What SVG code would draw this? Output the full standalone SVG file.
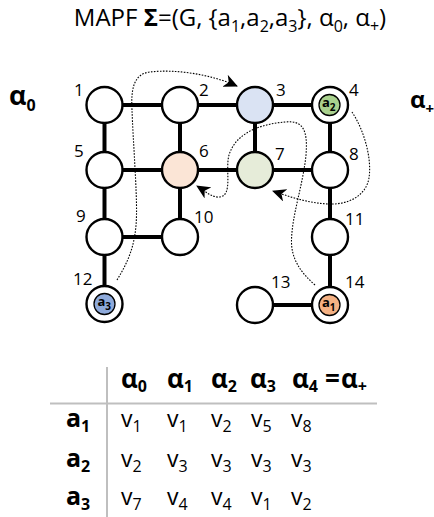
<svg xmlns="http://www.w3.org/2000/svg" width="434" height="517" viewBox="0 0 434 517">
<defs>
<style>
text{font-family:"Open Sans","Noto Sans","DejaVu Sans",sans-serif;fill:#000}
.title{font-size:24px}
.lbl{font-size:17px}
.edge{stroke:#000;stroke-width:4;stroke-linecap:butt}
.node{stroke:#000;stroke-width:2.4;fill:#fff}
.inner{stroke:#000;stroke-width:1.3}
.ia{font-size:13px;font-weight:bold}
.is{font-size:10px;font-weight:bold}
.path{fill:none;stroke:#000;stroke-width:1.1;stroke-dasharray:1.6 1.4}
.grid{stroke:#bfbfbf;stroke-width:2}
.hd{font-size:26px;font-weight:bold}
.hs{font-size:16px;font-weight:bold}
.ra{font-size:25px;font-weight:bold}
.v{font-size:23px}
.vs{font-size:16px}
</style>
<marker id="arr" markerUnits="userSpaceOnUse" markerWidth="14" markerHeight="13" viewBox="0 0 14 13" refX="13" refY="6.5" orient="auto">
<path d="M0,0 L14,6.5 L0,13 L4,6.5 Z" fill="#000"/>
</marker>
</defs>
<rect width="434" height="517" fill="#fff"/>

<text class="title" x="230" y="26" text-anchor="middle">MAPF <tspan font-weight="bold">Σ</tspan>=(G, {a<tspan font-size="16" dy="6">1</tspan><tspan dy="-6">,a</tspan><tspan font-size="16" dy="6">2</tspan><tspan dy="-6">,a</tspan><tspan font-size="16" dy="6">3</tspan><tspan dy="-6">}, α</tspan><tspan font-size="16" dy="6">0</tspan><tspan dy="-6">, α</tspan><tspan font-size="16" dy="6">+</tspan><tspan dy="-6">)</tspan></text>

<text x="9" y="105" font-size="27" font-weight="bold">α<tspan font-size="16" dy="6">0</tspan></text>
<text x="410" y="108" font-size="24" font-weight="bold">α<tspan font-size="15" dy="6">+</tspan></text>

<g id="connectors">
<line class="edge" x1="104.5" y1="105" x2="180" y2="105"/>
<line class="edge" x1="180" y1="105" x2="255" y2="105"/>
<line class="edge" x1="255" y1="105" x2="330" y2="105"/>
<line class="edge" x1="104.5" y1="105" x2="104.5" y2="170"/>
<line class="edge" x1="180" y1="105" x2="180" y2="170"/>
<line class="edge" x1="255" y1="105" x2="255" y2="170"/>
<line class="edge" x1="330" y1="105" x2="330" y2="170"/>
<line class="edge" x1="104.5" y1="170" x2="180" y2="170"/>
<line class="edge" x1="180" y1="170" x2="255" y2="170"/>
<line class="edge" x1="255" y1="170" x2="330" y2="170"/>
<line class="edge" x1="104.5" y1="170" x2="104.5" y2="237"/>
<line class="edge" x1="180" y1="170" x2="180" y2="237"/>
<line class="edge" x1="330" y1="170" x2="330" y2="237"/>
<line class="edge" x1="104.5" y1="237" x2="180" y2="237"/>
<line class="edge" x1="104.5" y1="237" x2="104.5" y2="304"/>
<line class="edge" x1="330" y1="237" x2="330" y2="305"/>
<line class="edge" x1="255" y1="305" x2="330" y2="305"/>
</g>

<g id="v1"><circle class="node" cx="104.5" cy="105" r="18"/><text class="lbl" x="74" y="96">1</text></g>
<g id="v2"><circle class="node" cx="180" cy="105" r="18"/><text class="lbl" x="199" y="96">2</text></g>
<g id="v3"><circle class="node" cx="255" cy="105" r="18" style="fill:#dae3f3"/><text class="lbl" x="276" y="96">3</text></g>
<g id="v4"><circle class="node" cx="330" cy="105" r="18"/><circle class="inner" cx="329.5" cy="105" r="10.5" fill="#a9d18e"/><text class="ia" x="322" y="107">a<tspan class="is" dy="4">2</tspan></text><text class="lbl" x="349" y="96">4</text></g>
<g id="v5"><circle class="node" cx="104.5" cy="170" r="18"/><text class="lbl" x="74" y="157">5</text></g>
<g id="v6"><circle class="node" cx="180" cy="170" r="18" style="fill:#fbe5d6"/><text class="lbl" x="199" y="157">6</text></g>
<g id="v7"><circle class="node" cx="255" cy="170" r="18" style="fill:#e6ecd9"/><text class="lbl" x="275" y="160">7</text></g>
<g id="v8"><circle class="node" cx="330" cy="170" r="18"/><text class="lbl" x="349" y="160">8</text></g>
<g id="v9"><circle class="node" cx="104.5" cy="237" r="18"/><text class="lbl" x="76" y="222">9</text></g>
<g id="v10"><circle class="node" cx="180" cy="237" r="18"/><text class="lbl" x="194" y="223">10</text></g>
<g id="v11"><circle class="node" cx="330" cy="237" r="18"/><text class="lbl" x="345" y="225">11</text></g>
<g id="v12"><circle class="node" cx="104.5" cy="304" r="18"/><circle class="inner" cx="104.5" cy="304" r="10.5" fill="#8eaadb"/><text class="ia" x="97.5" y="306">a<tspan class="is" dy="4">3</tspan></text><text class="lbl" x="73" y="285">12</text></g>
<g id="v13"><circle class="node" cx="255" cy="305" r="18"/><text class="lbl" x="271" y="288">13</text></g>
<g id="v14"><circle class="node" cx="330" cy="305" r="18"/><circle class="inner" cx="329.5" cy="305" r="10.5" fill="#f4b183"/><text class="ia" x="322" y="307">a<tspan class="is" dy="4">1</tspan></text><text class="lbl" x="345" y="288">14</text></g>

<g id="agent-paths">
<path class="path" d="M117,280 C128,262 136,245 136.5,215 C137,190 133,140 132,110 C131,90 133,74 150,72 C175,69 210,74 237,86" marker-end="url(#arr)"/>
<path class="path" d="M315,285 C300,272 291,258 291.5,240 C292,215 303,185 306,155 C308,130 303,120 285,122 C262,124 236,132 229,155 C225,170 233,195 220,197 C212,198 205,191 197,186" marker-end="url(#arr)"/>
<path class="path" d="M352,112 C364,130 372,158 369,178 C366,196 348,205 328,204 C308,203 290,197 273,191" marker-end="url(#arr)"/>
</g>

<g id="table">
<line class="grid" x1="107" y1="367" x2="107" y2="517"/>
<line class="grid" x1="50" y1="403.5" x2="377" y2="403.5"/>
<text class="hd" x="121" y="388">α<tspan class="hs" dy="4">0</tspan></text>
<text class="hd" x="167" y="388">α<tspan class="hs" dy="4">1</tspan></text>
<text class="hd" x="211" y="388">α<tspan class="hs" dy="4">2</tspan></text>
<text class="hd" x="250" y="388">α<tspan class="hs" dy="4">3</tspan></text>
<text class="hd" x="292" y="388">α<tspan class="hs" dy="4">4</tspan><tspan x="325" dy="-4">=</tspan><tspan x="341">α</tspan><tspan class="hs" dy="4">+</tspan></text>

<text class="ra" x="66" y="427">a<tspan class="hs" dy="5">1</tspan></text>
<text class="ra" x="66" y="467">a<tspan class="hs" dy="5">2</tspan></text>
<text class="ra" x="66" y="505">a<tspan class="hs" dy="5">3</tspan></text>

<text class="v" x="121" y="427">v<tspan class="vs" dy="5">1</tspan></text>
<text class="v" x="167" y="427">v<tspan class="vs" dy="5">1</tspan></text>
<text class="v" x="211" y="427">v<tspan class="vs" dy="5">2</tspan></text>
<text class="v" x="251" y="427">v<tspan class="vs" dy="5">5</tspan></text>
<text class="v" x="291" y="427">v<tspan class="vs" dy="5">8</tspan></text>

<text class="v" x="121" y="467">v<tspan class="vs" dy="5">2</tspan></text>
<text class="v" x="167" y="467">v<tspan class="vs" dy="5">3</tspan></text>
<text class="v" x="211" y="467">v<tspan class="vs" dy="5">3</tspan></text>
<text class="v" x="251" y="467">v<tspan class="vs" dy="5">3</tspan></text>
<text class="v" x="291" y="467">v<tspan class="vs" dy="5">3</tspan></text>

<text class="v" x="121" y="505">v<tspan class="vs" dy="5">7</tspan></text>
<text class="v" x="167" y="505">v<tspan class="vs" dy="5">4</tspan></text>
<text class="v" x="211" y="505">v<tspan class="vs" dy="5">4</tspan></text>
<text class="v" x="251" y="505">v<tspan class="vs" dy="5">1</tspan></text>
<text class="v" x="291" y="505">v<tspan class="vs" dy="5">2</tspan></text>
</g>
</svg>
